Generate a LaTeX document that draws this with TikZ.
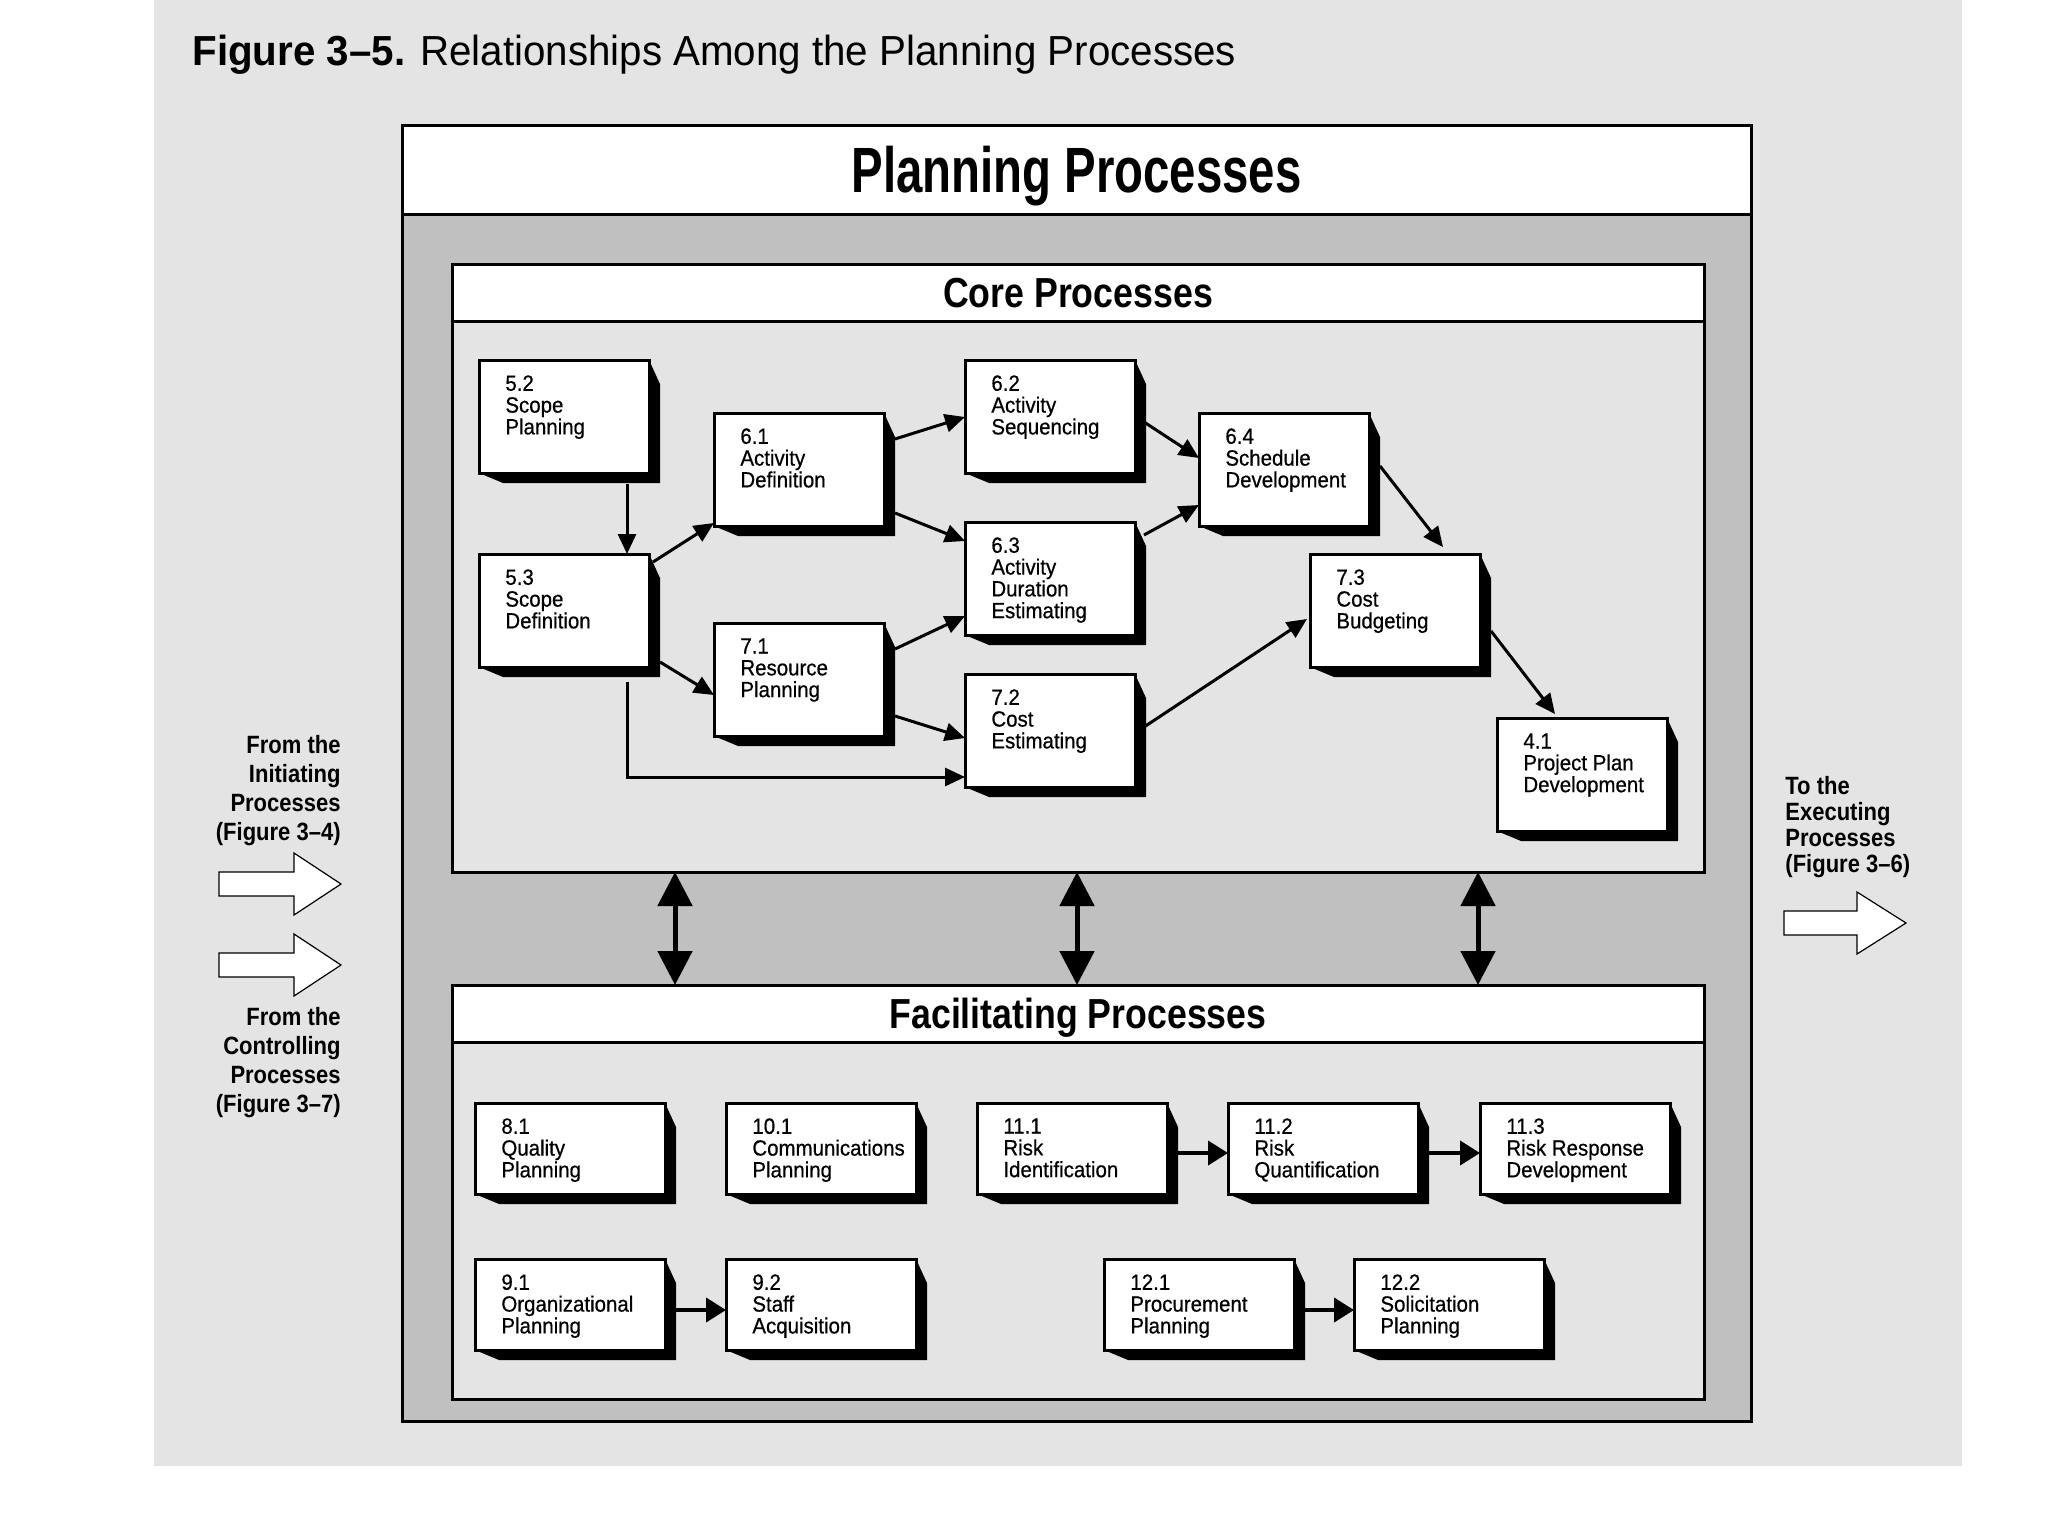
\documentclass[tikz,border=0pt]{standalone}
\usepackage{fontspec}
\setmainfont{Liberation Sans}
\newfontfamily\titlef[FakeStretch=0.96]{Liberation Sans}
\newfontfamily\headf[FakeStretch=0.74]{Liberation Sans}
\newfontfamily\subheadf[FakeStretch=0.85]{Liberation Sans}
\newfontfamily\boxf[FakeStretch=0.93,FakeBold=0.6]{Liberation Sans}
\newfontfamily\sidef[FakeStretch=0.88]{Liberation Sans}
\usetikzlibrary{calc,arrows.meta}
\definecolor{bglight}{HTML}{E4E4E4}
\definecolor{midgray}{HTML}{C0C0C0}
\tikzset{
  frame/.style={draw, line width=1.5pt, inner sep=0, outer sep=0, anchor=north west},
  pbox/.style={draw, fill=white, line width=1.5pt, inner sep=0, outer sep=0, anchor=north west},
  ptxt/.style={anchor=north west, inner sep=0, align=left, font=\boxf\fontsize{11}{10.9}\selectfont},
  con/.style={line width=1.5pt, -{Triangle[length=10pt,width=9pt]}},
  fcon/.style={line width=2pt, -{Triangle[length=10pt,width=12pt]}},
  dbl/.style={line width=2.5pt, {Triangle[length=17pt,width=17pt]}-{Triangle[length=17pt,width=17pt]}},
  hollow/.style={draw=black, line width=0.6pt, fill=white},
  sidetxt/.style={inner sep=0, font=\sidef\bfseries\fontsize{12.5}{14.5}\selectfont},
}
% name, x, y, w, h, text
\newcommand\pbx[6]{%
  \fill ({#2+#4},{#3}) -- ({#2+#4+11},{#3+24}) -- ({#2+#4+11},{#3+#5+10}) -- ({#2+24},{#3+#5+10}) -- ({#2},{#3+#5}) -- cycle;
  \node[pbox, minimum width={#4*0.5pt}, minimum height={#5*0.5pt}] (#1) at (#2,#3) {};
  \node[ptxt] (#1t) at ({#2+26},{#3+15}) {#6};
}
\begin{document}
\begin{tikzpicture}[x=0.5pt,y=-0.5pt]
\useasboundingbox (0,0) rectangle (2048,1536);
\fill[white] (0,0) rectangle (2048,1536);
\fill[bglight] (154,0) rectangle (1962,1466);

% title
\node[anchor=west, inner sep=0, font=\titlef\fontsize{21}{24}\selectfont] (title) at (192,55)
  {\textbf{Figure 3–5.} Relationships Among the Planning Processes};

% outer frame
\node[frame, fill=midgray, minimum width=674.5pt, minimum height=648pt] (outer) at (402,125) {};
\node[frame, fill=white, minimum width=674.5pt, minimum height=44.5pt, text depth=0pt, font=\headf\bfseries\fontsize{32}{36}\selectfont] (phead) at (402,125) {Planning Processes};

% core frame
\node[frame, fill=bglight, minimum width=626pt, minimum height=304pt] (core) at (452,264) {};
\node[frame, fill=white, minimum width=626pt, minimum height=28.5pt, text depth=0pt, font=\subheadf\bfseries\fontsize{21}{24}\selectfont] (corehead) at (452,264) {Core Processes};

% facilitating frame
\node[frame, fill=bglight, minimum width=626pt, minimum height=207pt] (fac) at (452,985) {};
\node[frame, fill=white, minimum width=626pt, minimum height=28.5pt, text depth=0pt, font=\subheadf\bfseries\fontsize{21}{24}\selectfont] (fachead) at (452,985) {Facilitating Processes};

% double arrows
\draw[dbl] ($(core.south west)+(223,0)$) -- ($(fac.north west)+(223,0)$);
\draw[dbl] ($(core.south west)+(625,0)$) -- ($(fac.north west)+(625,0)$);
\draw[dbl] ($(core.south west)+(1026,0)$) -- ($(fac.north west)+(1026,0)$);

% core boxes
\pbx{b52}{479}{360}{170}{113}{5.2\\Scope\\Planning}
\pbx{b53}{479}{554}{170}{113}{5.3\\Scope\\Definition}
\pbx{b61}{714}{413}{170}{113}{6.1\\Activity\\Definition}
\pbx{b71}{714}{623}{170}{113}{7.1\\Resource\\Planning}
\pbx{b62}{965}{360}{170}{113}{6.2\\Activity\\Sequencing}
\pbx{b63}{965}{522}{170}{113}{6.3\\Activity\\Duration\\Estimating}
\pbx{b72}{965}{674}{170}{113}{7.2\\Cost\\Estimating}
\pbx{b64}{1199}{413}{170}{113}{6.4\\Schedule\\Development}
\pbx{b73}{1310}{554}{170}{113}{7.3\\Cost\\Budgeting}
\pbx{b41}{1497}{718}{170}{113}{4.1\\Project Plan\\Development}

% core connectors
\draw[con] ($(b52.north west)+(148,124)$) -- ($(b53.north west)+(148,0)$);
\draw[con] ($(b53.north west)+(174,8)$) -- ($(b61.north west)+(0,110)$);
\draw[con] ($(b53.north west)+(181,108)$) -- ($(b71.north west)+(0,72)$);
\draw[con] ($(b53.north west)+(148,128)$) |- ($(b72.north west)+(0,103)$);
\draw[con] ($(b61.north west)+(181,26)$) -- ($(b62.north west)+(0,57)$);
\draw[con] ($(b61.north west)+(181,100)$) -- ($(b63.north west)+(0,19)$);
\draw[con] ($(b71.north west)+(181,26)$) -- ($(b63.north west)+(0,94)$);
\draw[con] ($(b71.north west)+(181,93)$) -- ($(b72.north west)+(0,64)$);
\draw[con] ($(b62.north west)+(179,62)$) -- ($(b64.north west)+(0,45)$);
\draw[con] ($(b63.north west)+(179,13)$) -- ($(b64.north west)+(0,92)$);
\draw[con] ($(b72.north west)+(179,53)$) -- ($(b73.north west)+(-3,65)$);
\draw[con] ($(b64.north west)+(181,53)$) -- ($(b73.north west)+(133,-7)$);
\draw[con] ($(b73.north west)+(181,77)$) -- ($(b41.north west)+(58,-4)$);

% facilitating boxes
\pbx{f81}{475}{1103}{190}{91}{8.1\\Quality\\Planning}
\pbx{f101}{726}{1103}{190}{91}{10.1\\Communications\\Planning}
\pbx{f111}{977}{1103}{190}{91}{11.1\\Risk\\Identification}
\pbx{f112}{1228}{1103}{190}{91}{11.2\\Risk\\Quantification}
\pbx{f113}{1480}{1103}{190}{91}{11.3\\Risk Response\\Development}
\pbx{f91}{475}{1259}{190}{91}{9.1\\Organizational\\Planning}
\pbx{f92}{726}{1259}{190}{91}{9.2\\Staff\\Acquisition}
\pbx{f121}{1104}{1259}{190}{91}{12.1\\Procurement\\Planning}
\pbx{f122}{1354}{1259}{190}{91}{12.2\\Solicitation\\Planning}

\draw[fcon] ($(f111.north west)+(201,50)$) -- ($(f112.north west)+(0,50)$);
\draw[fcon] ($(f112.north west)+(201,50)$) -- ($(f113.north west)+(0,50)$);
\draw[fcon] ($(f91.north west)+(201,51)$) -- ($(f92.north west)+(0,51)$);
\draw[fcon] ($(f121.north west)+(201,51)$) -- ($(f122.north west)+(0,51)$);

% side texts and hollow arrows
\node[sidetxt, anchor=north east, align=right] (fromi) at (341,735) {From the\\Initiating\\Processes\\(Figure 3–4)};
\node[sidetxt, anchor=north east, align=right] (fromc) at (341,1007) {From the\\Controlling\\Processes\\(Figure 3–7)};
\node[sidetxt, anchor=north west, align=left, font=\sidef\bfseries\fontsize{12.5}{13}\selectfont] (toe) at (1785,776) {To the\\Executing\\Processes\\(Figure 3–6)};

\draw[hollow] (219,872) -- (294,872) -- (294,853) -- (341,884) -- (294,915) -- (294,896) -- (219,896) -- cycle;
\draw[hollow] (219,953) -- (294,953) -- (294,934) -- (341,965) -- (294,996) -- (294,977) -- (219,977) -- cycle;
\draw[hollow] (1784,911) -- (1857,911) -- (1857,892) -- (1906,923) -- (1857,954) -- (1857,935) -- (1784,935) -- cycle;
\end{tikzpicture}
\end{document}
